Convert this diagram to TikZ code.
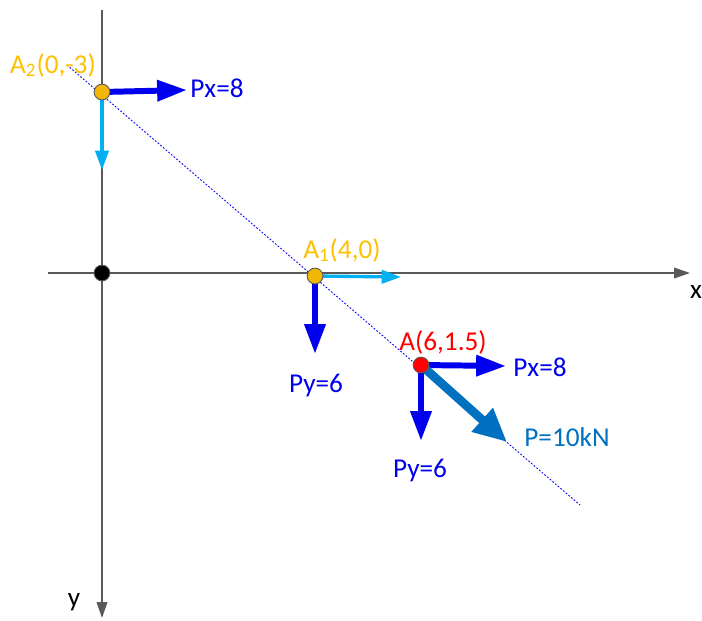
\documentclass[tikz,border=0pt]{standalone}
\usepackage{fontspec}
\setmainfont{Carlito}
\usetikzlibrary{arrows.meta}
\definecolor{axisgray}{HTML}{595959}
\definecolor{ptorange}{HTML}{F2B705}
\definecolor{lblorange}{HTML}{FFC000}
\definecolor{forceblue}{HTML}{0000EE}
\definecolor{lightblue}{HTML}{00B0F0}
\definecolor{resblue}{HTML}{0070C0}
\begin{document}
\begin{tikzpicture}[
    x=0.02cm, y=-0.02cm,
    axis/.style={draw=axisgray, line width=0.9pt, -{Triangle[length=9pt, width=6pt]}},
    force/.style={draw=forceblue, line width=3.4pt, -{Triangle[length=17pt, width=11.5pt]}},
    moved/.style={draw=lightblue, line width=1.9pt, -{Triangle[length=11pt, width=7.5pt]}},
    result/.style={draw=resblue, line width=5pt, -{Triangle[length=19pt, width=17pt]}},
    dot/.style={circle, draw=axisgray, line width=0.5pt, inner sep=0pt, minimum size=9pt},
    lbl/.style={font=\fontsize{15.5}{18}\selectfont}
]
\useasboundingbox (0,0) rectangle (702,620);

% Points
\coordinate (O) at (102,273);
\coordinate (A2) at (102,92);
\coordinate (A1) at (315,276);
\coordinate (A) at (421,365);

% Axes
\coordinate (xs) at (48,273);
\coordinate (xe) at (690,273);
\coordinate (ys) at (102,10);
\coordinate (ye) at (102,618);
\draw[axis] (xs) -- (xe);
\draw[axis] (ys) -- (ye);
\node[lbl] (xlbl) at (696,292) {x};
\node[lbl] (ylbl) at (74,602) {y};

% Line of action
\coordinate (ls) at (67,65);
\coordinate (le) at (580,505);
\draw[forceblue, line width=0.5pt, dash pattern=on 1pt off 1pt] (ls) -- (le);

% Forces at A2
\coordinate (A2x) at (187,90);
\coordinate (A2y) at (102,170);
\draw[force] (A2) -- (A2x);
\draw[moved] (A2) -- (A2y);
\node[lbl, text=forceblue] (a2px) at (217,88) {Px=8};

% Forces at A1
\coordinate (A1x) at (401,277);
\coordinate (A1y) at (315,354);
\draw[moved] (A1) -- (A1x);
\draw[force] (A1) -- (A1y);
\node[lbl, text=forceblue] (a1py) at (316,385) {Py=6};

% Forces at A
\coordinate (Ax) at (506,366);
\coordinate (Ay) at (421,441);
\coordinate (Ap) at (507,442);
\draw[force] (A) -- (Ax);
\draw[force] (A) -- (Ay);
\draw[result] (A) -- (Ap);
\node[lbl, text=forceblue] (apx) at (540,367) {Px=8};
\node[lbl, text=forceblue] (apy) at (420,470) {Py=6};
\node[lbl, text=resblue] (ap) at (567,437) {P=10kN};

% Dots
\node[dot, fill=black] (o) at (O) {};
\node[dot, fill=ptorange] (a2) at (A2) {};
\node[dot, fill=ptorange] (a1) at (A1) {};
\node[dot, fill=red] (a) at (A) {};

% Labels
\node[lbl, text=lblorange] (a2lbl) at (53,65) {A\textsubscript{2}(0,-3)};
\node[lbl, text=lblorange] (a1lbl) at (342,250) {A\textsubscript{1}(4,0)};
\node[lbl, text=red] (albl) at (443,342) {A(6,1.5)};

\end{tikzpicture}
\end{document}
